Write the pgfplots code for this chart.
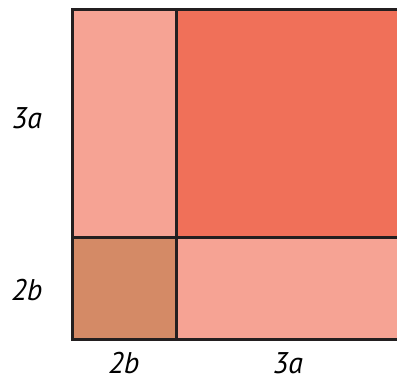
\documentclass[border=0pt]{standalone}
\usepackage{pgfplots}
\pgfplotsset{compat=1.18}
\usepackage{fontspec}
\setmainfont{PT Sans}
\definecolor{light}{HTML}{F6A394}
\definecolor{dark}{HTML}{F07059}
\definecolor{brown}{HTML}{D48A66}
\definecolor{edge}{HTML}{231F20}
\begin{document}
\begin{tikzpicture}
\useasboundingbox (0,0) rectangle (397bp,381bp);
\begin{axis}[
  at={(0,0)}, anchor=south west,
  scale only axis, width=397bp, height=381bp,
  xmin=0, xmax=397, ymin=0, ymax=381,
  hide axis, clip=true,
]
% top-left (2b x 3a)
\addplot[fill=light, draw=edge, line width=3bp] coordinates {(72,143) (176,143) (176,371) (72,371)} --cycle;
% top-right (3a x 3a)
\addplot[fill=dark, draw=edge, line width=3bp] coordinates {(176,143) (420,143) (420,371) (176,371)} --cycle;
% bottom-left (2b x 2b)
\addplot[fill=brown, draw=edge, line width=3bp] coordinates {(72,41) (176,41) (176,143) (72,143)} --cycle;
% bottom-right (3a x 2b)
\addplot[fill=light, draw=edge, line width=3bp] coordinates {(176,41) (420,41) (420,143) (176,143)} --cycle;
\tikzset{lbl/.style={inner sep=0pt, font=\fontsize{30}{32}\selectfont\itshape}}
\node[lbl] at (axis cs:27,263) {3a};
\node[lbl] at (axis cs:27,91) {2b};
\node[lbl] at (axis cs:124,18) {2b};
\node[lbl] at (axis cs:288,18) {3a};
\end{axis}
\end{tikzpicture}
\end{document}
